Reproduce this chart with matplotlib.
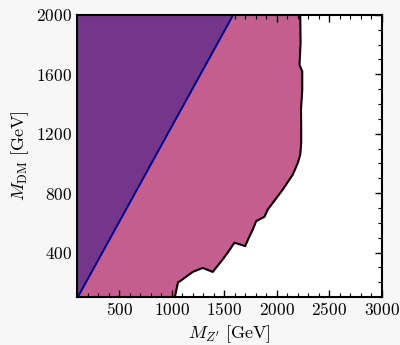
import matplotlib
matplotlib.use("Agg")
import matplotlib.pyplot as plt
import numpy as np
from matplotlib.ticker import MultipleLocator, FuncFormatter

plt.rcParams['mathtext.fontset'] = 'cm'
plt.rcParams['font.family'] = 'serif'
plt.rcParams['font.serif'] = ['DejaVu Serif']

# Exclusion boundary (M_Z', M_DM) in GeV
boundary_mzp = [1030, 1060, 1092, 1200, 1296, 1391, 1487, 1534, 1598, 1646, 1700,
                1735, 1773, 1805, 1884, 1916, 1964, 2059, 2154, 2202, 2225, 2234,
                2234, 2232, 2244, 2244, 2218, 2228, 2225]
boundary_mdm = [100, 199, 214, 270, 297, 270, 355, 400, 467, 456, 444,
                500, 556, 612, 641, 691, 735, 825, 925, 1004, 1060, 1138,
                1227, 1362, 1496, 1619, 1664, 1809, 2000]

# Diagonal kinematic line
line_mzp = [105, 1586]
line_mdm = [100, 2000]

xticks = [500, 1000, 1500, 2000, 2500, 3000]
yticks = [400, 800, 1200, 1600, 2000]

fig = plt.figure(figsize=(4.0, 3.45), dpi=100, facecolor='#f7f7f7')
ax = fig.add_axes([0.193, 0.1386, 0.761, 0.8184])
ax.set_facecolor('white')

pink = '#c45e8e'
purple = '#74368a'

bx = np.array(boundary_mzp, dtype=float)
by = np.array(boundary_mdm, dtype=float)
ax.fill_betweenx(by, 100, bx, color=pink, lw=0, zorder=1)

lx = np.array(line_mzp, dtype=float)
ly = np.array(line_mdm, dtype=float)
ax.fill_betweenx(ly, 100, lx, color=purple, lw=0, zorder=2)
ax.plot(lx, ly, color='#00008b', lw=1.4, zorder=3)
ax.plot(bx, by, color='black', lw=1.5, zorder=3)

ax.set_xlim(100, 3000)
ax.set_ylim(100, 2000)
ax.set_xticks(xticks)
ax.set_yticks(yticks)
ax.xaxis.set_minor_locator(MultipleLocator(100))
ax.yaxis.set_minor_locator(MultipleLocator(100))
fmt = FuncFormatter(lambda v, p: r'$%d$' % v)
ax.xaxis.set_major_formatter(fmt)
ax.yaxis.set_major_formatter(fmt)
ax.tick_params(which='both', direction='in', top=True, right=True, labelsize=12.5)
ax.tick_params(which='major', length=5, width=1)
ax.tick_params(which='minor', length=3, width=0.8)
for s in ax.spines.values():
    s.set_linewidth(1.5)
    s.set_zorder(5)

ax.set_xlabel(r"$M_{Z'}\ [\mathrm{GeV}]$", fontsize=13, labelpad=3)
ax.set_ylabel(r"$M_{\mathrm{DM}}\ [\mathrm{GeV}]$", fontsize=13, labelpad=4)

fig.savefig('out.png', dpi=100, facecolor=fig.get_facecolor())
